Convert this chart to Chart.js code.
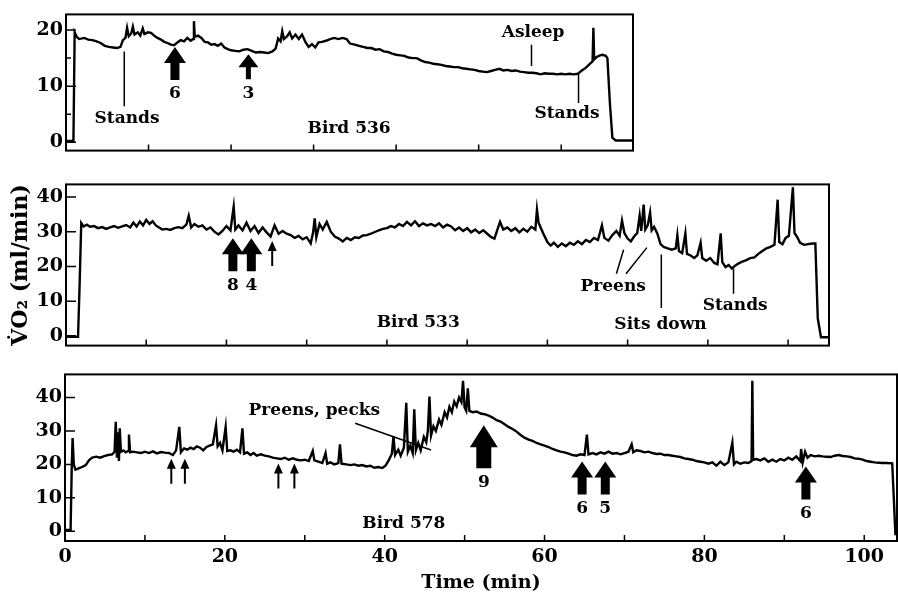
<!DOCTYPE html>
<html>
<head>
<meta charset="utf-8">
<script src="https://cdn.jsdelivr.net/npm/chart.js@4.4.1/dist/chart.umd.min.js"></script>
<style>
  body { margin: 0; background: #fff; }
  canvas { position: absolute; left: 0; }
</style>
</head>
<body>
<canvas id="c536" width="898" height="165" style="top:0px"></canvas>
<canvas id="c533" width="898" height="190" style="top:170px"></canvas>
<canvas id="c578" width="898" height="237" style="top:360px"></canvas>
<script>
// VO2 traces, [time (min), ml/min]
const bird536 = [[0,0.2],[0.9,0.2],[1.05,19.6],[1.3,18.8],[1.6,18.4],[2.2,18.6],[2.7,18.3],[3.2,18.2],[3.7,18.0],[4.2,17.7],[4.7,17.2],[5.2,17.0],[5.7,16.9],[6.2,16.8],[6.6,17.0],[6.9,18.2],[7.2,18.6],[7.4,20.4],[7.6,18.9],[7.9,19.4],[8.1,20.6],[8.3,19.2],[8.7,19.6],[9.0,19.0],[9.3,20.3],[9.5,19.3],[9.9,19.6],[10.3,19.5],[10.7,19.0],[11.1,18.6],[11.5,18.3],[11.9,17.9],[12.3,17.7],[12.7,17.4],[13.1,17.3],[13.5,17.8],[13.9,18.2],[14.3,18.0],[14.7,18.6],[15.1,18.1],[15.4,18.4],[15.5,21.6],[15.6,18.8],[16.0,19.0],[16.4,18.6],[16.8,17.9],[17.2,17.8],[17.6,17.4],[18.0,17.5],[18.4,17.2],[18.8,17.6],[19.2,16.9],[19.6,16.6],[20.0,16.4],[20.5,16.3],[21.0,16.2],[21.5,16.5],[22.0,16.6],[22.5,16.3],[23.0,16.0],[23.5,16.1],[24.0,16.0],[24.5,15.9],[25.0,16.2],[25.4,16.7],[25.7,18.5],[26.0,18.0],[26.2,19.8],[26.4,18.4],[26.8,18.9],[27.1,19.6],[27.4,18.5],[27.8,19.2],[28.2,18.4],[28.6,19.2],[29.0,17.9],[29.4,17.0],[29.8,17.5],[30.2,16.9],[30.6,17.8],[31.0,17.9],[31.5,18.1],[32.0,18.4],[32.5,18.6],[33.0,18.4],[33.5,18.6],[34.0,18.4],[34.4,17.6],[35.0,17.4],[35.5,17.2],[36.0,17.0],[36.5,16.8],[37.0,16.8],[37.5,16.5],[38.0,16.6],[38.5,16.2],[39.0,16.1],[39.5,15.8],[40.0,15.6],[40.5,15.5],[41.0,15.4],[41.5,15.1],[42.0,15.0],[42.5,15.0],[43.0,14.6],[43.5,14.3],[44.0,14.2],[44.5,14.0],[45.0,13.9],[45.5,13.8],[46.0,13.6],[46.5,13.5],[47.0,13.4],[47.5,13.4],[48.0,13.2],[48.5,13.1],[49.0,13.0],[49.5,12.9],[50.0,12.7],[50.5,12.6],[51.0,12.5],[51.5,12.7],[52.0,12.9],[52.5,13.1],[53.0,12.8],[53.5,12.9],[54.0,12.7],[54.5,12.8],[55.0,12.6],[55.5,12.5],[56.0,12.4],[56.5,12.4],[57.0,12.3],[57.5,12.1],[58.0,12.3],[58.5,12.2],[59.0,12.2],[59.5,12.1],[60.0,12.2],[60.5,12.1],[61.0,12.2],[61.5,12.1],[62.0,12.2],[62.5,12.8],[63.0,13.3],[63.5,14.0],[63.8,14.4],[63.9,20.4],[64.0,14.8],[64.3,15.2],[64.7,15.5],[65.0,15.6],[65.4,15.4],[65.6,15.0],[65.9,7.0],[66.2,0.8],[66.6,0.3],[68.7,0.3]];

const bird533 = [[0,-0.3],[1.5,-0.3],[1.7,15],[1.9,32.5],[2.2,31.5],[2.6,32.0],[3.0,31.4],[3.5,31.6],[4.0,31.0],[4.5,31.3],[5.0,30.8],[5.5,31.2],[6.0,31.6],[6.5,31.1],[7.0,31.5],[7.5,31.9],[8.0,31.2],[8.4,32.6],[8.8,31.5],[9.2,32.9],[9.6,31.8],[10.0,33.4],[10.4,32.2],[10.8,33.0],[11.2,31.8],[11.6,31.2],[12.0,30.6],[12.5,30.8],[13.0,30.5],[13.5,31.0],[14.0,31.3],[14.5,31.0],[15.0,32.0],[15.3,34.6],[15.6,31.2],[16.0,32.2],[16.5,31.4],[17.0,31.8],[17.5,30.6],[18.0,31.2],[18.5,30.0],[19.0,29.2],[19.5,30.2],[20.0,31.6],[20.5,30.4],[20.9,37.2],[21.1,30.6],[21.5,31.8],[22.0,30.4],[22.5,32.6],[23.0,30.2],[23.5,31.6],[24.0,29.6],[24.5,31.2],[25.0,29.8],[25.5,28.6],[26.0,31.8],[26.5,29.4],[27.0,30.2],[27.5,29.4],[28.0,29.0],[28.5,28.2],[29.0,28.8],[29.5,27.8],[30.0,28.4],[30.5,26.6],[30.8,29.8],[31.0,33.8],[31.2,28.4],[31.6,32.2],[32.0,30.6],[32.5,32.8],[33.0,30.0],[33.5,28.6],[34.0,28.0],[34.5,27.2],[35.0,28.2],[35.5,27.6],[36.0,28.4],[36.5,28.2],[37.0,28.9],[37.5,29.0],[38.0,29.4],[38.5,29.9],[39.0,30.4],[39.5,30.8],[40.0,31.0],[40.5,31.6],[41.0,31.2],[41.5,32.2],[42.0,31.6],[42.5,32.8],[43.0,31.8],[43.5,33.0],[44.0,31.6],[44.5,32.4],[45.0,31.8],[45.5,32.2],[46.0,31.6],[46.5,32.4],[47.0,31.2],[47.5,32.0],[48.0,31.5],[48.5,30.4],[49.0,31.2],[49.5,30.2],[50.0,31.0],[50.5,29.8],[51.0,30.6],[51.5,29.6],[52.0,30.4],[52.5,29.4],[53.0,28.4],[53.4,28.0],[53.8,30.8],[54.1,32.8],[54.5,30.6],[55.0,31.2],[55.5,30.2],[56.0,31.0],[56.5,29.8],[57.0,30.8],[57.5,30.0],[58.0,31.4],[58.5,30.6],[58.7,36.4],[58.9,32.6],[59.2,31.0],[59.5,29.4],[60.0,27.0],[60.4,26.0],[60.8,26.8],[61.3,25.6],[61.8,26.6],[62.3,25.8],[62.8,26.8],[63.3,26.2],[63.8,27.2],[64.3,26.4],[64.8,27.6],[65.3,27.0],[65.8,28.2],[66.3,27.6],[66.8,31.8],[67.1,28.2],[67.6,27.4],[68.1,29.0],[68.6,30.2],[69.0,28.8],[69.3,33.2],[69.6,29.6],[70.0,28.0],[70.4,27.2],[70.8,28.6],[71.2,29.6],[71.5,34.6],[71.7,30.2],[72.0,37.8],[72.2,30.6],[72.5,31.8],[72.8,35.5],[73.0,30.4],[73.3,31.4],[73.7,29.5],[74.1,26.4],[74.5,25.6],[75.0,25.2],[75.5,24.8],[76.0,25.2],[76.2,29.0],[76.4,24.4],[76.8,23.8],[77.2,29.5],[77.4,23.6],[77.8,23.2],[78.3,22.4],[78.7,23.2],[79.1,26.8],[79.3,22.4],[79.8,21.6],[80.3,22.4],[80.8,21.0],[81.2,20.6],[81.6,29.5],[81.8,21.2],[82.2,19.8],[82.6,20.4],[83.0,19.4],[83.4,20.2],[83.8,20.8],[84.3,21.4],[84.8,21.8],[85.3,22.4],[85.8,22.6],[86.3,23.6],[86.8,24.4],[87.3,25.2],[87.8,25.6],[88.3,26.2],[88.7,39.2],[88.9,27.0],[89.3,26.4],[89.7,28.2],[90.1,28.8],[90.6,42.8],[90.8,29.6],[91.1,28.6],[91.5,26.8],[92.0,26.2],[92.5,26.4],[93.0,26.6],[93.4,26.6],[93.7,5.0],[94.1,-0.4],[95.1,-0.4]];

const bird578 = [[0,0.4],[0.7,0.4],[0.85,20],[0.95,27.9],[1.1,20],[1.3,18.4],[1.7,18.8],[2.2,19.3],[2.6,19.8],[3.0,21.2],[3.4,22.0],[3.9,22.3],[4.4,22.0],[4.9,22.5],[5.4,22.8],[5.9,23.0],[6.2,23.8],[6.35,32.7],[6.5,22.0],[6.6,29.6],[6.75,21.0],[6.85,30.8],[7.0,23.8],[7.3,24.2],[7.6,23.6],[7.9,24.0],[8.0,28.9],[8.15,23.6],[8.5,23.8],[9.0,23.6],[9.5,23.4],[10.0,23.8],[10.5,23.4],[11.0,23.9],[11.5,23.3],[12.0,23.7],[12.5,23.5],[13.0,23.4],[13.5,22.8],[13.9,24.2],[14.3,31.2],[14.5,23.6],[14.9,24.8],[15.3,24.4],[15.7,25.0],[16.1,24.6],[16.5,25.4],[16.9,25.0],[17.3,24.2],[17.7,25.2],[18.1,25.6],[18.5,26.0],[18.9,31.7],[19.1,25.4],[19.4,26.4],[19.7,24.2],[20.1,31.2],[20.3,24.0],[20.7,24.2],[21.1,23.8],[21.5,24.4],[21.9,23.6],[22.2,30.8],[22.4,23.2],[22.8,23.6],[23.2,22.8],[23.6,23.4],[24.0,22.6],[24.5,23.0],[25.0,22.6],[25.5,22.4],[26.0,22.0],[26.5,21.8],[27.0,21.6],[27.5,22.0],[28.0,21.4],[28.5,21.8],[29.0,21.4],[29.5,21.2],[30.0,21.4],[30.5,21.0],[31.0,24.0],[31.2,21.2],[31.7,20.8],[32.2,20.4],[32.6,23.4],[32.8,20.2],[33.2,20.6],[33.7,20.0],[34.2,20.4],[34.4,26.0],[34.6,20.2],[35.2,20.0],[35.7,19.8],[36.2,20.0],[36.7,19.6],[37.2,19.8],[37.7,19.4],[38.2,19.6],[38.7,19.0],[39.2,19.2],[39.7,18.9],[40.1,19.6],[40.5,21.2],[40.9,23.2],[41.1,28.4],[41.3,22.8],[41.7,24.4],[42.0,22.6],[42.4,25.0],[42.7,38.4],[42.9,23.8],[43.2,25.6],[43.5,23.4],[43.7,36.5],[43.9,24.2],[44.2,26.4],[44.5,24.2],[44.9,28.2],[45.2,26.6],[45.4,30.0],[45.6,40.3],[45.8,28.6],[46.1,31.4],[46.4,30.0],[46.8,33.4],[47.1,31.8],[47.5,35.6],[47.8,34.0],[48.1,37.2],[48.4,35.6],[48.7,38.8],[49.0,37.4],[49.3,40.0],[49.6,38.6],[49.8,45.0],[50.0,37.0],[50.2,36.0],[50.4,42.7],[50.6,36.0],[51.0,35.6],[51.5,35.8],[52.0,35.2],[52.5,35.0],[53.0,34.6],[53.5,34.0],[54.0,33.2],[54.5,32.8],[55.0,32.0],[55.5,31.2],[56.0,30.6],[56.5,29.8],[57.0,28.8],[57.5,28.0],[58.0,27.4],[58.5,27.0],[59.0,26.4],[59.5,26.0],[60.0,25.6],[60.5,25.2],[61.0,24.6],[61.5,24.2],[62.0,23.8],[62.5,23.6],[63.0,23.2],[63.5,22.8],[64.0,22.6],[64.5,23.0],[65.0,22.8],[65.3,28.9],[65.5,23.0],[66.0,23.4],[66.5,23.0],[67.0,23.6],[67.5,23.2],[68.0,23.8],[68.5,23.2],[69.0,23.4],[69.5,23.0],[70.0,23.4],[70.5,23.8],[70.9,26.0],[71.1,23.6],[71.5,24.2],[72.0,24.0],[72.5,23.6],[73.0,23.8],[73.5,23.4],[74.0,23.1],[74.5,23.2],[75.0,22.8],[75.5,22.8],[76.0,22.6],[76.5,22.4],[77.0,22.2],[77.5,21.8],[78.0,21.6],[78.5,21.4],[79.0,21.0],[79.5,20.8],[80.0,20.6],[80.5,20.2],[81.0,20.6],[81.5,19.6],[82.0,20.8],[82.5,19.8],[83.0,20.6],[83.5,26.5],[83.7,20.0],[84.0,20.8],[84.5,20.2],[85.0,20.6],[85.5,20.4],[85.9,21.0],[86.0,45.0],[86.1,21.4],[86.5,21.6],[87.0,21.2],[87.5,21.8],[88.0,20.8],[88.5,21.4],[89.0,20.8],[89.5,21.6],[90.0,21.2],[90.5,22.0],[91.0,21.4],[91.5,22.4],[92.0,21.0],[92.1,24.6],[92.3,20.6],[92.6,23.8],[92.9,22.0],[93.3,22.8],[93.8,22.4],[94.3,22.6],[94.8,22.4],[95.3,22.3],[95.8,22.2],[96.3,22.6],[96.8,22.8],[97.3,22.5],[97.8,22.4],[98.3,22.2],[98.8,21.8],[99.3,21.7],[99.8,21.4],[100.3,21.0],[100.8,20.8],[101.3,20.6],[101.8,20.5],[102.3,20.4],[102.8,20.4],[103.5,20.3],[103.7,10],[103.9,-0.8],[104.1,-0.8]];

const yTicks536 = [0, 10, 20];
const yTicks533 = [0, 10, 20, 30, 40];
const yTicks578 = [0, 10, 20, 30, 40];
const xTicks = [0, 20, 40, 60, 80, 100];

// annotations: [text, time, value], leader lines [t1, v1, t2, v2], arrows [time, tip value, kind, label]
const notes536 = [['Stands', 7.4, 4.3], ['Bird 536', 34.3, 2.5], ['Asleep', 56.6, 19.5], ['Stands', 60.7, 5.1]];
const leaders536 = [[7.06, 16.2, 7.06, 6.4], [56.4, 17.4, 56.4, 13.6], [62.1, 12.5, 62.1, 7.0]];
const arrows536 = [[13.2, 17.0, 'thick', '6'], [22.1, 15.7, 'medium', '3']];

const notes533 = [['Bird 533', 43.9, 3.9], ['Preens', 68.2, 14.3], ['Sits down', 74.1, 3.3], ['Stands', 83.4, 8.8]];
const leaders533 = [[68.6, 17.9, 69.5, 24.8], [69.8, 17.9, 72.4, 25.4], [74.2, 23.4, 74.2, 8.0], [83.2, 19.3, 83.2, 12.1]];
const arrows533 = [[20.8, 28.1, 'thick', '8'], [23.1, 28.1, 'thick', '4'], [25.7, 27.3, 'thin', '']];

const notes578 = [['Preens, pecks', 31.2, 36], ['Bird 578', 42.4, 2.3]];
const leaders578 = [[36.3, 32.3, 45.8, 24.3]];
const arrows578 = [[13.3, 21.7, 'thin', ''], [15.0, 21.7, 'thin', ''], [26.7, 20.3, 'thin', ''], [28.7, 20.3, 'thin', ''],
  [52.4, 31.7, 'big', '9'], [64.7, 20.9, 'thick', '6'], [67.6, 20.9, 'thick', '5'], [92.7, 19.4, 'thick', '6']];

const FONT = '"DejaVu Serif", "Liberation Serif", serif';
const ARROW = {
  big:    { hw: 28, hh: 22, sw: 15, sl: 21 },
  thick:  { hw: 22, hh: 16, sw: 9,  sl: 17 },
  medium: { hw: 20, hh: 13, sw: 5,  sl: 12 },
  thin:   { hw: 9,  hh: 10, sw: 2,  sl: 15 },
};

const framePlugin = {
  id: 'frame',
  afterDatasetsDraw(chart, args, o) {
    const { ctx, chartArea: a, scales: { x, y } } = chart;
    ctx.save();
    ctx.strokeStyle = '#000';
    ctx.fillStyle = '#000';
    ctx.lineWidth = 2;
    ctx.strokeRect(a.left, a.top, a.right - a.left, a.bottom - a.top);

    // inward tick marks
    ctx.lineWidth = 1.5;
    ctx.beginPath();
    for (let t = 10; t < x.max; t += 10) {
      const px = x.getPixelForValue(t);
      ctx.moveTo(px, a.bottom);
      ctx.lineTo(px, a.bottom - 6);
    }
    o.yTicks.forEach(v => {
      const py = y.getPixelForValue(v);
      ctx.moveTo(a.left, py);
      ctx.lineTo(a.left + 10, py);
    });
    if (o.minor) {
      o.yTicks.forEach(v => {
        const py = y.getPixelForValue(v + 5);
        if (py > a.top) { ctx.moveTo(a.left, py); ctx.lineTo(a.left + 5, py); }
      });
    }
    ctx.stroke();

    ctx.lineWidth = 1.5;
    ctx.beginPath();
    o.leaders.forEach(([t1, v1, t2, v2]) => {
      ctx.moveTo(x.getPixelForValue(t1), y.getPixelForValue(v1));
      ctx.lineTo(x.getPixelForValue(t2), y.getPixelForValue(v2));
    });
    ctx.stroke();

    ctx.font = 'bold 17px ' + FONT;
    ctx.textAlign = 'center';
    ctx.textBaseline = 'middle';
    o.notes.forEach(([txt, t, v]) => ctx.fillText(txt, x.getPixelForValue(t), y.getPixelForValue(v)));

    o.arrows.forEach(([t, v, kind, label]) => {
      const s = ARROW[kind];
      const px = x.getPixelForValue(t), py = y.getPixelForValue(v);
      ctx.beginPath();
      ctx.moveTo(px, py);
      ctx.lineTo(px + s.hw / 2, py + s.hh);
      ctx.lineTo(px + s.sw / 2, py + s.hh);
      ctx.lineTo(px + s.sw / 2, py + s.hh + s.sl);
      ctx.lineTo(px - s.sw / 2, py + s.hh + s.sl);
      ctx.lineTo(px - s.sw / 2, py + s.hh);
      ctx.lineTo(px - s.hw / 2, py + s.hh);
      ctx.closePath();
      ctx.fill();
      if (label) ctx.fillText(label, px, py + s.hh + s.sl + 14);
    });
    ctx.restore();
  }
};

function makeChart(id, trace, cfg) {
  const tickFont = { family: FONT, size: 19, weight: 'bold' };
  new Chart(document.getElementById(id), {
    type: 'line',
    data: {
      datasets: [{
        data: trace.map(([t, v]) => ({ x: t, y: v })),
        borderColor: '#000',
        borderWidth: 2.4,
        pointRadius: 0,
        tension: 0,
        fill: false,
      }]
    },
    options: {
      responsive: false,
      animation: false,
      events: [],
      layout: { padding: cfg.padding },
      plugins: {
        legend: { display: false },
        tooltip: { enabled: false },
        frame: { yTicks: cfg.yTicks, minor: cfg.minor, notes: cfg.notes, leaders: cfg.leaders, arrows: cfg.arrows },
      },
      scales: {
        x: {
          type: 'linear',
          min: 0,
          max: cfg.xMax,
          afterBuildTicks: s => { s.ticks = xTicks.map(v => ({ value: v })); },
          ticks: { display: cfg.xLabels, font: tickFont, color: '#000', padding: 5, maxRotation: 0, autoSkip: false },
          grid: { display: false, drawTicks: false },
          border: { display: false },
          title: {
            display: cfg.xLabels,
            text: 'Time (min)',
            color: '#000',
            font: { family: FONT, size: 19, weight: 'bold' },
            padding: { top: 0, bottom: 3 },
          },
          afterFit: s => { s.height = cfg.xHeight; },
        },
        y: {
          min: cfg.yMin,
          max: cfg.yMax,
          afterBuildTicks: s => { s.ticks = cfg.yTicks.map(v => ({ value: v })); },
          ticks: { font: tickFont, color: '#000', padding: 3 },
          grid: { display: false, drawTicks: false },
          border: { display: false },
          title: {
            display: !!cfg.yTitle,
            text: cfg.yTitle || '',
            color: '#000',
            font: { family: FONT, size: 22, weight: 'bold' },
            padding: 8,
          },
          afterFit: s => { s.width = cfg.yWidth; },
        }
      }
    },
    plugins: [framePlugin]
  });
}

makeChart('c536', bird536, {
  xMax: 68.7, yMin: -1.5, yMax: 22.8, yTicks: yTicks536, minor: true,
  padding: { left: 0, right: 265, top: 7, bottom: 10 }, xHeight: 0, yWidth: 66, xLabels: false,
  notes: notes536, leaders: leaders536, arrows: arrows536,
});

makeChart('c533', bird533, {
  xMax: 95.1, yMin: -2.8, yMax: 43.6, yTicks: yTicks533, minor: false,
  padding: { left: 0, right: 69, top: 9, bottom: 13 }, xHeight: 0, yWidth: 66, xLabels: false,
  yTitle: 'V\u0307O\u2082 (ml/min)',
  notes: notes533, leaders: leaders533, arrows: arrows533,
});

makeChart('c578', bird578, {
  xMax: 104.1, yMin: -2.9, yMax: 46.9, yTicks: yTicks578, minor: false,
  padding: { left: 0, right: 1, top: 7, bottom: 0 }, xHeight: 56, yWidth: 65, xLabels: true,
  notes: notes578, leaders: leaders578, arrows: arrows578,
});
</script>
</body>
</html>
